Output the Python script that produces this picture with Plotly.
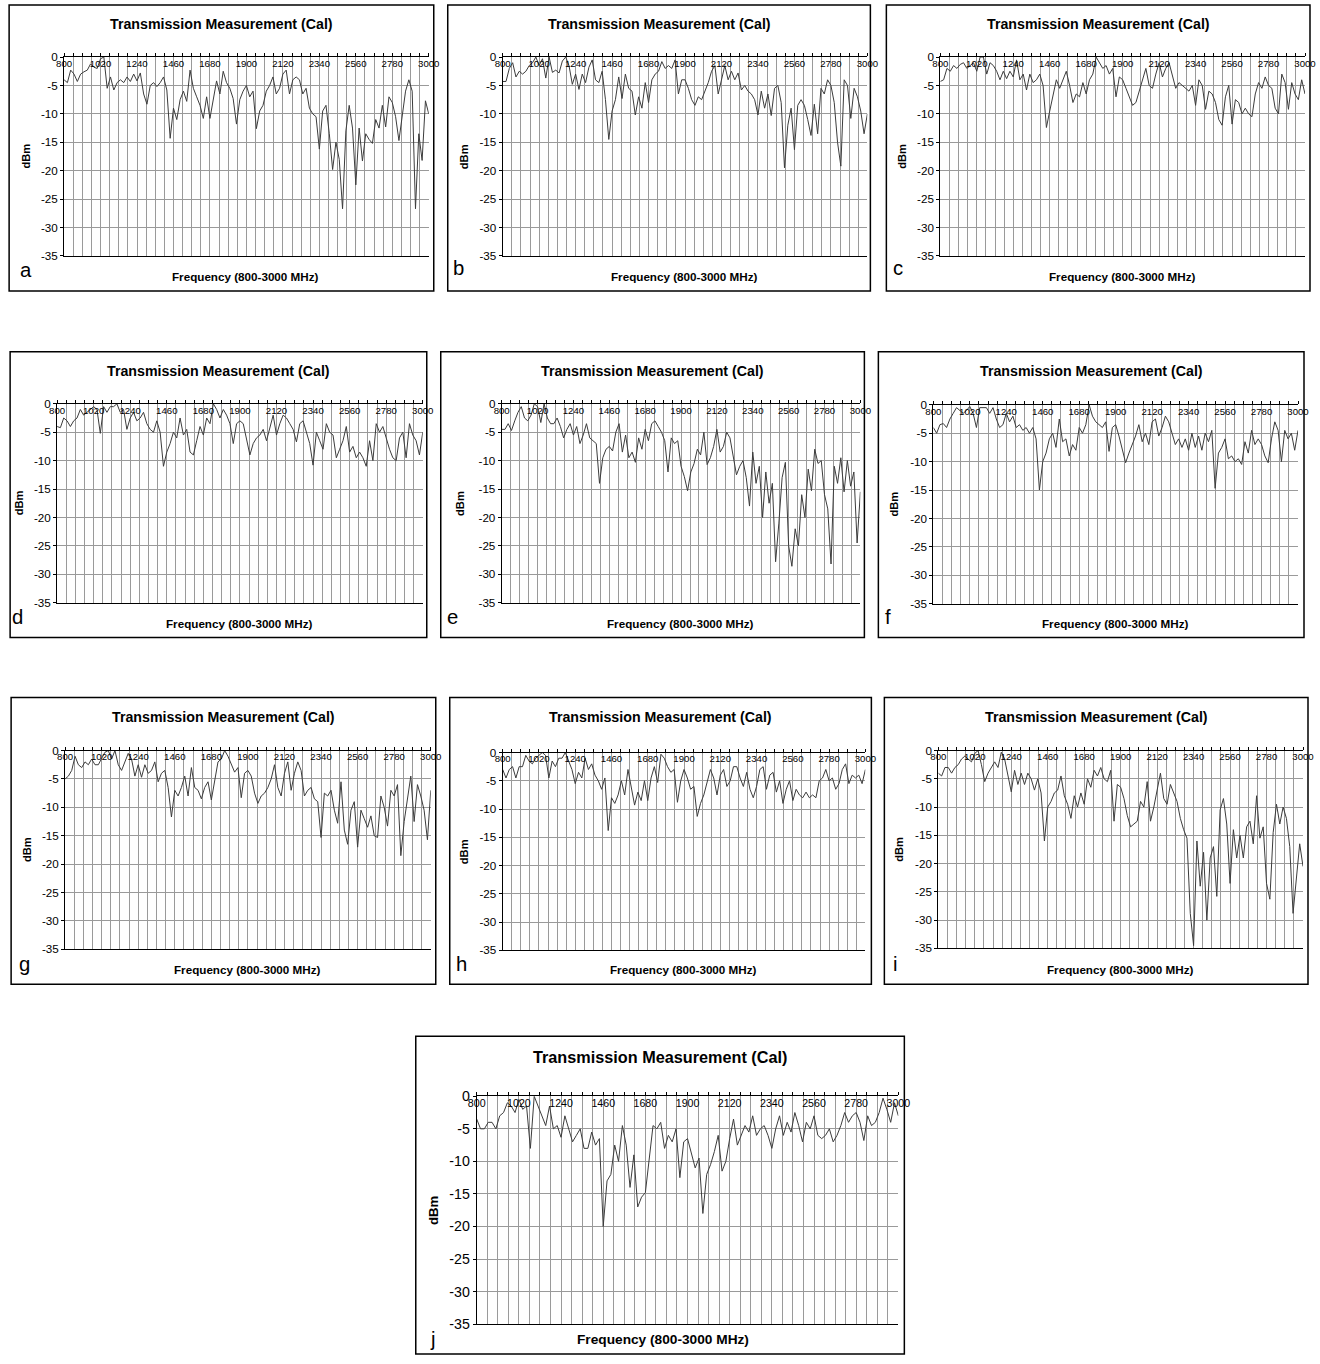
import plotly.graph_objects as go

# ---------------------------------------------------------------- data
FREQ_MHZ = list(range(800, 3001, 20))
X_TICKS = [800, 1020, 1240, 1460, 1680, 1900, 2120, 2340, 2560, 2780, 3000]
Y_TICKS = [0, -5, -10, -15, -20, -25, -30, -35]

A_DBM = [-4.0, -4.5, -2.3, -3.0, -4.3, -3.0, -2.6, -2.3, -1.2, -1.8, -2.0,
         -0.3, 0.0, -5.5, -3.5, -5.8, -4.5, -4.0, -4.5, -3.5, -4.3,
         -3.0, -4.2, -2.8, -6.5, -8.3, -5.0, -4.5, -5.2, -4.5, -3.5,
         -5.8, -14.3, -9.0, -11.0, -7.5, -6.0, -7.8, -2.3, -5.5, -7.0,
         -8.5, -10.8, -7.0, -10.8, -7.5, -4.2, -6.5, -2.5, -4.5, -5.5,
         -7.3, -11.8, -7.5, -6.0, -5.0, -7.0, -6.0, -12.6, -9.5, -8.5,
         -6.0, -5.0, -3.5, -6.5, -5.5, -3.0, -2.3, -6.5, -4.0, -3.5,
         -4.0, -6.5, -5.5, -9.0, -10.0, -10.5, -16.2, -9.5, -8.5, -13.5,
         -19.8, -15.0, -18.0, -26.7, -13.0, -8.5, -12.5, -22.5, -12.5, -18.3,
         -13.5, -14.5, -15.2, -11.0, -12.5, -8.5, -12.3, -7.0, -8.0, -10.5,
         -14.7, -10.5, -6.0, -4.0, -6.0, -26.7, -13.5, -18.2, -7.7, -10.0]

B_DBM = [-4.3, -4.3, -2.0, -1.0, -3.5, -2.5, -3.0, -2.5, -1.5, -1.0, 0.0,
         -1.5, -0.3, -3.7, 0.0, -2.7, -2.3, -2.8, -0.7, 0.0, -1.5,
         -4.8, -3.0, -5.7, -3.0, -4.5, -1.8, -0.5, -4.0, -4.5, -2.5,
         -7.5, -14.5, -9.5, -7.5, -3.5, -7.3, -3.0, -5.5, -6.0, -10.2,
         -7.0, -9.0, -4.5, -8.0, -4.0, -3.0, -2.5, -0.8, -2.0, -1.5,
         -2.0, -0.5, -6.5, -4.0, -4.0, -5.5, -7.5, -8.5, -7.0, -7.5,
         -6.0, -4.5, -2.5, -1.5, -6.5, -4.0, -1.5, -4.0, -2.5, -4.0,
         -2.8, -5.8, -5.0, -6.0, -6.5, -7.5, -10.2, -6.0, -9.0, -6.5,
         -10.3, -5.5, -5.0, -8.0, -19.5, -12.0, -9.0, -16.3, -8.5, -7.5,
         -8.5, -11.0, -13.8, -8.3, -13.5, -5.5, -6.5, -4.0, -5.0, -8.0,
         -15.0, -19.2, -4.0, -5.0, -10.8, -5.5, -7.0, -9.5, -13.5, -10.0]

C_DBM = [-4.3, -4.0, -2.0, -2.5, -1.5, -2.0, -1.3, -1.0, -2.0, -1.5, -1.0,
         -2.5, 0.0, 0.0, -3.0, -1.0, -1.5, -2.5, -4.0, -2.5, -3.8,
         -2.5, -3.5, -0.5, -4.0, -3.0, -5.8, -3.0, -4.5, -4.0, -3.0,
         -5.0, -12.4, -9.5, -6.5, -4.0, -5.5, -4.0, -2.5, -5.0, -8.0,
         -6.5, -7.0, -4.5, -6.5, -4.0, -3.0, 0.0, -1.0, -2.0, -1.5,
         -3.0, -2.0, -7.0, -3.5, -4.0, -5.5, -7.0, -8.5, -8.0, -6.0,
         -4.0, -2.0, -5.0, -5.5, -3.0, -1.0, -3.5, -2.0, -1.0, -3.5,
         -5.5, -4.5, -5.0, -5.5, -6.0, -5.0, -8.5, -4.0, -5.0, -9.2,
         -6.0, -6.5, -8.0, -11.0, -12.0, -7.0, -5.0, -11.8, -7.5, -8.0,
         -10.0, -9.0, -10.0, -10.5, -6.5, -4.5, -5.5, -3.5, -5.0, -5.5,
         -9.0, -10.0, -3.0, -4.5, -9.2, -4.5, -6.5, -7.5, -4.0, -6.5]

D_DBM = [-4.0, -4.2, -2.5, -3.0, -4.0, -3.0, -2.5, -1.0, -2.0, -1.5, -1.0,
         -0.5, -1.0, -5.2, -0.5, -1.5, -0.5, -0.5, 0.0, -1.5, -1.0,
         -4.5, -2.5, -1.5, -3.0, -2.5, -1.5, -3.5, -4.5, -5.0, -3.0,
         -5.0, -11.0, -8.5, -7.0, -5.0, -6.0, -2.5, -5.5, -4.5, -8.5,
         -9.0, -6.5, -4.0, -5.5, -2.5, -3.5, 0.0, -1.0, -2.5, -1.0,
         -2.0, -3.5, -7.0, -3.5, -3.0, -3.5, -6.5, -9.0, -7.0, -6.0,
         -5.5, -4.5, -6.5, -4.0, -2.0, -5.5, -3.5, -2.0, -2.5, -3.5,
         -4.5, -6.7, -3.5, -3.0, -5.0, -7.0, -10.8, -5.0, -6.5, -8.0,
         -3.5, -5.0, -5.5, -9.5, -8.0, -6.5, -4.0, -8.5, -7.5, -9.5,
         -8.5, -9.5, -11.0, -6.5, -10.0, -3.5, -5.0, -4.0, -6.0, -8.0,
         -9.5, -10.0, -6.0, -5.0, -9.5, -3.5, -5.5, -6.5, -9.0, -5.0]

E_DBM = [-4.5, -4.5, -3.5, -4.7, -3.0, -1.5, -0.5, -2.5, -3.0, -2.0, 0.0,
         -0.5, -3.3, 0.0, -2.5, -3.5, -3.5, -2.5, -4.0, -6.0, -4.5,
         -3.5, -5.5, -4.0, -7.0, -5.5, -3.5, -6.0, -6.5, -7.0, -14.0,
         -9.5, -8.0, -7.5, -8.3, -5.0, -3.5, -8.5, -5.5, -9.5, -8.5,
         -10.3, -6.0, -8.0, -4.5, -6.5, -3.5, -3.0, -4.0, -5.0, -6.5,
         -12.0, -6.0, -7.0, -6.5, -11.0, -12.8, -15.3, -12.0, -10.5, -8.0,
         -9.0, -5.0, -10.7, -9.5, -7.5, -4.5, -8.5, -7.5, -5.0, -6.0,
         -9.5, -12.5, -11.0, -10.0, -13.0, -18.0, -8.5, -14.0, -11.0, -20.0,
         -12.0, -17.5, -14.0, -27.8, -21.0, -13.0, -10.3, -25.0, -28.6, -22.0,
         -25.0, -16.0, -20.0, -11.5, -15.3, -8.0, -10.5, -10.0, -16.0, -18.5,
         -28.2, -11.0, -14.0, -9.5, -15.5, -10.0, -14.5, -12.0, -24.5, -15.5]

F_DBM = [-4.0, -5.0, -3.5, -3.3, -4.0, -2.5, -1.5, -0.5, -1.0, -1.5, -1.0,
         -0.3, -1.5, -4.0, -0.5, -0.5, -0.5, -1.5, -0.5, -2.5, -4.0,
         -3.5, -1.5, -3.0, -2.0, -4.0, -3.5, -4.5, -4.0, -5.0, -4.0,
         -6.0, -15.0, -10.0, -8.5, -6.0, -5.0, -7.5, -2.5, -6.5, -6.0,
         -9.0, -7.0, -8.0, -4.0, -5.0, -3.5, 0.0, -2.0, -3.0, -3.5,
         -4.0, -3.0, -8.2, -4.0, -3.5, -5.5, -8.0, -10.2, -8.5, -7.0,
         -5.5, -3.5, -6.5, -5.0, -7.0, -3.0, -2.5, -5.5, -4.0, -2.0,
         -3.0, -5.0, -7.0, -6.0, -7.5, -6.0, -8.0, -5.0, -7.5, -5.5,
         -8.0, -5.0, -6.5, -4.5, -14.7, -8.5, -7.5, -6.0, -9.5, -9.0,
         -10.0, -9.5, -10.5, -6.5, -8.5, -4.5, -7.0, -6.0, -7.0, -9.0,
         -10.2, -6.0, -3.0, -4.5, -10.0, -4.5, -6.0, -5.0, -8.0, -4.5]

G_DBM = [-5.0, -4.5, -3.5, -1.0, -2.5, -3.0, -2.0, -2.5, -1.5, -2.5, -2.5,
         -1.5, -0.3, 0.0, -1.5, 0.0, -2.5, -3.5, -2.0, -0.5, -1.5,
         -4.5, -2.5, -4.7, -2.5, -4.0, -3.5, -2.0, -5.5, -4.0, -3.5,
         -6.5, -11.7, -7.0, -8.0, -6.5, -4.5, -8.0, -3.0, -6.5, -7.0,
         -8.5, -6.5, -5.5, -8.7, -5.0, -2.0, -1.5, 0.0, -1.0, -2.5,
         -3.8, -3.0, -8.3, -4.0, -3.5, -4.5, -7.5, -9.3, -8.0, -7.5,
         -6.5, -5.0, -2.5, -6.5, -8.0, -4.0, -2.0, -7.0, -4.0, -2.0,
         -3.5, -8.0, -7.0, -6.5, -8.5, -9.0, -15.3, -7.5, -8.0, -7.0,
         -10.5, -12.8, -5.5, -14.0, -16.5, -10.5, -9.0, -17.0, -10.5, -12.0,
         -13.5, -11.5, -15.0, -15.3, -8.0, -10.0, -13.3, -7.0, -8.0, -6.0,
         -18.5, -12.5, -8.0, -4.5, -12.5, -6.0, -8.0, -10.5, -15.7, -7.0]

H_DBM = [-3.0, -4.5, -3.0, -2.5, -4.5, -2.5, -2.5, -0.5, -1.5, -2.0, -1.0,
         -0.5, 0.0, -0.5, -4.5, -1.5, -2.5, -1.0, -1.0, 0.0, -1.5,
         -3.0, -5.5, -3.5, -4.5, -1.0, -3.0, -2.0, -4.0, -5.0, -6.5,
         -4.5, -13.8, -8.0, -9.0, -7.5, -5.0, -7.5, -3.0, -6.5, -9.3,
         -7.0, -8.5, -5.0, -8.5, -4.5, -2.5, -5.3, -0.3, -1.0, -2.5,
         -3.5, -3.0, -8.8, -5.0, -3.0, -4.5, -6.5, -6.0, -11.3, -9.0,
         -7.5, -5.0, -3.0, -4.5, -7.5, -4.0, -3.0, -6.0, -5.0, -2.5,
         -2.5, -4.5, -6.0, -3.5, -6.5, -8.0, -6.0, -3.0, -2.5, -6.5,
         -4.0, -3.5, -7.0, -5.0, -9.0, -6.5, -5.0, -8.5, -6.5, -7.5,
         -8.0, -7.0, -8.0, -7.5, -8.0, -5.0, -4.5, -3.0, -5.0, -4.5,
         -6.5, -5.5, -3.0, -2.0, -5.5, -4.0, -4.5, -4.0, -5.5, -3.0]

I_DBM = [-4.0, -4.5, -3.0, -3.0, -4.0, -3.0, -2.5, -1.5, -1.0, -1.5, -2.0,
         -0.5, 0.0, -2.5, -5.5, -4.0, -3.0, -2.0, -3.0, -0.3, -1.5,
         -4.5, -7.3, -3.5, -6.0, -4.0, -6.0, -4.0, -5.0, -7.0, -5.0,
         -7.5, -16.0, -10.0, -9.0, -7.5, -7.0, -4.5, -8.0, -9.5, -12.0,
         -8.0, -10.0, -7.5, -9.5, -5.0, -6.5, -3.5, -4.5, -3.0, -5.0,
         -5.5, -3.5, -12.5, -6.0, -6.5, -8.5, -11.5, -13.5, -13.0, -12.5,
         -9.0, -10.0, -5.5, -12.5, -10.0, -7.0, -4.0, -8.5, -9.5, -6.0,
         -7.5, -9.0, -12.0, -14.0, -15.5, -28.8, -34.5, -16.0, -24.0, -18.0,
         -30.0, -19.0, -17.0, -25.8, -10.5, -8.5, -13.0, -23.5, -14.0, -19.0,
         -15.0, -19.0, -13.5, -12.5, -16.5, -8.0, -15.5, -13.5, -23.5, -26.3,
         -14.5, -9.5, -13.0, -10.0, -12.0, -17.0, -28.8, -23.0, -16.5, -20.5]

J_DBM = [-3.5, -5.0, -5.0, -4.0, -4.0, -5.0, -3.0, -2.5, -1.0, -1.5, -2.5,
         -0.5, -2.0, -1.5, -8.0, 0.0, -1.5, -3.0, -4.5, -1.5, -5.0,
         -4.5, -6.3, -3.0, -5.0, -7.0, -6.0, -5.0, -8.0, -8.0, -5.5,
         -7.5, -6.5, -20.0, -13.0, -12.0, -7.5, -10.0, -4.5, -7.5, -14.0,
         -9.0, -17.0, -15.5, -14.8, -9.5, -4.5, -5.0, -4.0, -8.0, -6.0,
         -7.0, -5.0, -12.5, -7.0, -6.5, -9.0, -11.0, -9.5, -18.0, -12.0,
         -10.5, -8.5, -6.0, -11.5, -10.0, -6.5, -3.5, -7.5, -6.0, -4.5,
         -5.5, -3.0, -6.0, -5.0, -4.5, -6.0, -8.0, -5.0, -3.0, -6.0,
         -4.0, -5.5, -2.5, -4.5, -7.0, -4.0, -5.0, -3.0, -6.0, -6.5,
         -6.0, -5.0, -7.0, -6.0, -4.5, -2.5, -4.0, -3.0, -2.5, -4.0,
         -6.8, -3.0, -4.5, -4.0, -2.5, -0.3, -2.0, -4.0, -1.0, -3.0]

SERIES = [A_DBM, B_DBM, C_DBM, D_DBM, E_DBM, F_DBM, G_DBM, H_DBM, I_DBM, J_DBM]
PANEL_LETTERS = ["a", "b", "c", "d", "e", "f", "g", "h", "i", "j"]
CHART_TITLE = "Transmission Measurement (Cal)"
X_TITLE = "Frequency (800-3000 MHz)"
Y_TITLE = "dBm"

# ---------------------------------------------------------------- layout
# Positions are screen pixels.  The page shows the figure behind an 8px body
# margin and slightly reduced, so screen pixels are converted back to figure
# pixels before they become paper fractions.
W, H = 1325, 1364
BODY_MARGIN = 8
SCALE_X, SCALE_Y = 0.985, 0.989

# plot area of each panel: left, right, top, bottom
PLOT_BOXES = [
    (63, 428, 57, 256), (502, 867, 57, 256), (940, 1305, 57, 256),
    (56, 422, 404, 603), (501, 860, 404, 603), (933, 1298, 405, 604),
    (64, 430, 751, 950), (502, 865, 753, 951), (938, 1303, 751, 949),
    (476, 898, 1097, 1325),
]
# outer frame of each panel: left, top, right, bottom
FRAME_BOXES = [
    (8, 5, 433, 291), (447, 5, 870, 291), (886, 5, 1310, 291),
    (9, 352, 426, 638), (440, 352, 864, 638), (878, 352, 1304, 638),
    (10, 698, 435, 985), (449, 698, 871, 985), (884, 698, 1308, 985),
    (415, 1037, 904, 1355),
]
TITLE_Y = [24, 24, 24, 371, 371, 371, 717, 717, 717, 1058]
XTITLE_POS = [(245, 277), (684, 277), (1122, 277), (239, 624), (680, 624),
              (1115, 624), (247, 970), (683, 970), (1120, 970), (662, 1340)]
YTITLE_X = [25, 464, 902, 18, 459, 894, 26, 464, 899, 432]
LETTER_POS = [(25, 270), (458, 268), (898, 268), (16, 617), (452, 617),
              (888, 617), (23, 965), (461, 965), (895, 965), (432, 1340)]

FONT = "Liberation Sans, Arial, sans-serif"
GRID = "#9a9a9a"
LINE = "#3c3c3c"
FS = 1.0 / SCALE_X  # font sizes grow by the same factor the page shrinks


def px(x):
    return (x / SCALE_X - BODY_MARGIN) / W


def py(y):
    return 1 - (y / SCALE_Y - BODY_MARGIN) / H


fig = go.Figure()
annotations = []
shapes = []

for k, (letter, values) in enumerate(zip(PANEL_LETTERS, SERIES)):
    big = letter == "j"
    n = "" if k == 0 else str(k + 1)
    l, r, t, b = PLOT_BOXES[k]
    fl, ft, fr, fb = FRAME_BOXES[k]

    fig.add_trace(go.Scatter(
        x=FREQ_MHZ, y=values, mode="lines",
        line=dict(color=LINE, width=1),
        xaxis="x" + n, yaxis="y" + n,
        showlegend=False, hoverinfo="skip",
    ))

    fig.layout["xaxis" + n] = dict(
        domain=[px(l), px(r)], anchor="y" + n, range=[800, 3000],
        side="top", tickmode="array", tickvals=X_TICKS,
        ticktext=[str(v) for v in X_TICKS],
        ticks="outside", ticklen=3, tickcolor="black",
        ticklabelposition="inside", ticklabeloverflow="allow",
        ticklabelstandoff=2,
        tickfont=dict(family=FONT, size=(10.5 if big else 9.5) * FS, color="black"),
        showline=True, linecolor="black", linewidth=1, mirror=True,
        showgrid=True, gridcolor=GRID, gridwidth=1, zeroline=False,
        minor=dict(tickmode="linear", tick0=800, dtick=55, showgrid=True,
                   gridcolor=GRID, gridwidth=1, ticks="outside", ticklen=3,
                   tickcolor="black"),
        fixedrange=True,
    )
    fig.layout["yaxis" + n] = dict(
        domain=[py(b), py(t)], anchor="x" + n, range=[-35, 0],
        tickmode="array", tickvals=Y_TICKS,
        ticktext=[str(v) for v in Y_TICKS],
        ticks="outside", ticklen=3, tickcolor="black",
        tickfont=dict(family=FONT, size=(14 if big else 11.5) * FS, color="black"),
        showline=True, linecolor="black", linewidth=1,
        showgrid=True, gridcolor=GRID, gridwidth=1, zeroline=False,
        fixedrange=True,
    )

    shapes.append(dict(type="rect", xref="paper", yref="paper",
                       x0=px(fl), x1=px(fr), y0=py(fb), y1=py(ft),
                       line=dict(color="black", width=1.5)))

    annotations.append(dict(
        text="<b>%s</b>" % CHART_TITLE, xref="paper", yref="paper",
        x=px((fl + fr) / 2), y=py(TITLE_Y[k]), xanchor="center", yanchor="middle",
        showarrow=False,
        font=dict(family=FONT, size=(16 if big else 14) * FS, color="black")))
    xt_x, xt_y = XTITLE_POS[k]
    annotations.append(dict(
        text="<b>%s</b>" % X_TITLE, xref="paper", yref="paper",
        x=px(xt_x), y=py(xt_y), xanchor="center", yanchor="middle",
        showarrow=False,
        font=dict(family=FONT, size=(13.5 if big else 11.5) * FS, color="black")))
    annotations.append(dict(
        text="<b>%s</b>" % Y_TITLE, xref="paper", yref="paper",
        x=px(YTITLE_X[k]), y=py((t + b) / 2), xanchor="center", yanchor="middle",
        textangle=-90, showarrow=False,
        font=dict(family=FONT, size=(13 if big else 11) * FS, color="black")))
    lt_x, lt_y = LETTER_POS[k]
    annotations.append(dict(
        text=letter, xref="paper", yref="paper",
        x=px(lt_x), y=py(lt_y), xanchor="center", yanchor="middle",
        showarrow=False, font=dict(family=FONT, size=20 * FS, color="black")))

fig.update_layout(
    width=W, height=H, margin=dict(l=0, r=0, t=0, b=0),
    paper_bgcolor="white", plot_bgcolor="white",
    annotations=annotations, shapes=shapes, showlegend=False,
)

fig.write_html("out.html")
